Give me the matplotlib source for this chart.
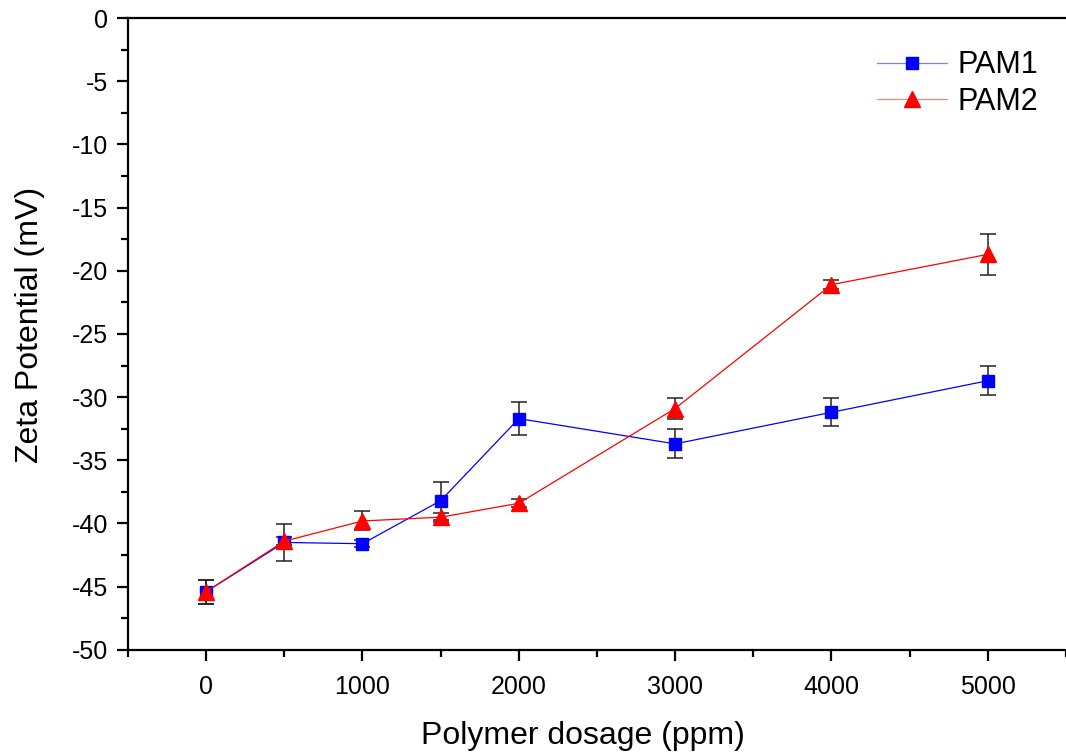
import matplotlib.pyplot as plt
from matplotlib.ticker import MultipleLocator

plt.rcParams['font.family'] = ['Liberation Sans', 'DejaVu Sans']
plt.rcParams['axes.unicode_minus'] = False

# Zeta potential vs. polymer dosage
dosage = [0, 500, 1000, 1500, 2000, 3000, 4000, 5000]
pam1 = [-45.4, -41.5, -41.6, -38.2, -31.7, -33.7, -31.2, -28.7]
pam1_err = [0.95, 1.45, 0.3, 1.5, 1.3, 1.15, 1.1, 1.17]
pam2 = [-45.4, -41.4, -39.8, -39.5, -38.4, -30.9, -21.1, -18.7]
pam2_err = [0.95, 0.3, 0.75, 0.35, 0.3, 0.87, 0.35, 1.6]

fig = plt.figure(figsize=(10.66, 7.53), dpi=100)
ax = fig.add_axes([0.12, 0.137, 0.88, 0.839])

ax.errorbar(dosage, pam1, yerr=pam1_err, fmt='none', ecolor='#222222',
            elinewidth=1.1, capsize=6, capthick=1.1, zorder=2)
ax.errorbar(dosage, pam2, yerr=pam2_err, fmt='none', ecolor='#222222',
            elinewidth=1.1, capsize=6, capthick=1.1, zorder=2)
ax.plot(dosage, pam1, color='blue', lw=0.9, marker='s', ms=8.6,
        mfc='blue', mec='blue', zorder=3, label='PAM1')
ax.plot(dosage, pam2, color='red', lw=0.9, marker='^', ms=12,
        mfc='red', mec='red', zorder=4, label='PAM2')

ax.set_xlim(-500, 5500)
ax.set_ylim(-50, 0)
ax.xaxis.set_major_locator(MultipleLocator(1000))
ax.xaxis.set_minor_locator(MultipleLocator(500))
ax.yaxis.set_major_locator(MultipleLocator(5))
ax.yaxis.set_minor_locator(MultipleLocator(2.5))

ax.spines['right'].set_visible(False)
for side in ('left', 'bottom', 'top'):
    ax.spines[side].set_linewidth(1.6)
ax.tick_params(which='major', direction='out', length=8, width=1.6,
               labelsize=18, pad=6)
ax.tick_params(axis='x', which='major', pad=10)
ax.tick_params(which='minor', direction='out', length=5, width=1.6)
ax.tick_params(top=False, right=False, which='both')

ax.set_xlabel('Polymer dosage (ppm)', fontsize=23)
ax.set_ylabel('Zeta Potential (mV)', fontsize=23)
ax.xaxis.set_label_coords(0.485, -0.113)
ax.yaxis.set_label_coords(-0.088, 0.514)

leg = ax.legend(loc='upper right', bbox_to_anchor=(0.99, 0.978),
                frameon=False, fontsize=22, handlelength=2.3,
                handletextpad=0.35, labelspacing=0.22, borderaxespad=0.2)
for line, c in zip(leg.get_lines(), ['#8080ff', '#ff8080']):
    line.set_color(c)

fig.savefig('out.png', dpi=100)
